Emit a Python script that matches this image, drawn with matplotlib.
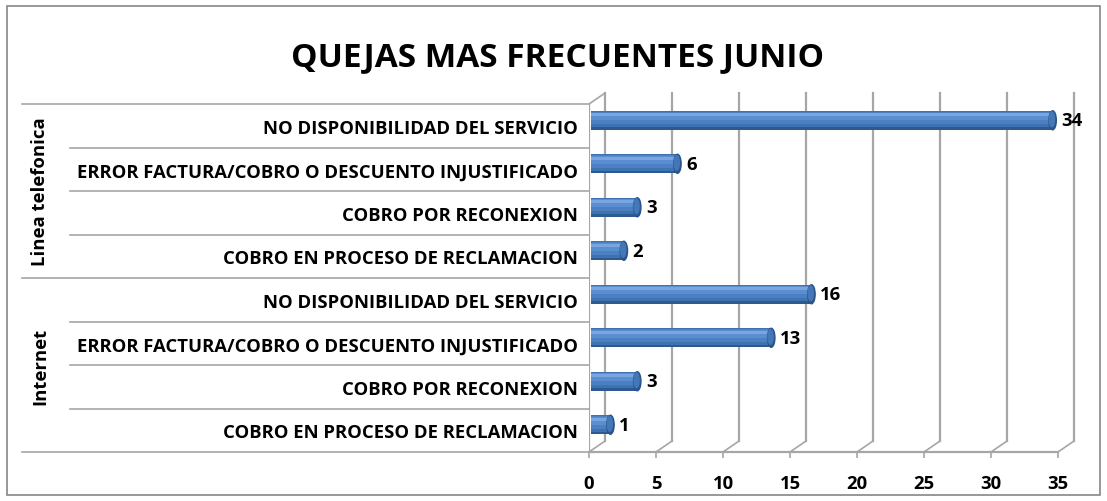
import matplotlib
matplotlib.use("Agg")
import matplotlib.pyplot as plt
from matplotlib.patches import Rectangle, Ellipse

# ── data ─────────────────────────────────────────
groups = ["Linea telefonica", "Internet"]
categories = [
    "NO DISPONIBILIDAD DEL SERVICIO",
    "ERROR FACTURA/COBRO O DESCUENTO INJUSTIFICADO",
    "COBRO POR RECONEXION",
    "COBRO EN PROCESO DE RECLAMACION",
]
linea_values = [34, 6, 3, 2]
internet_values = [16, 13, 3, 1]
x_ticks = [0, 5, 10, 15, 20, 25, 30, 35]
title = "QUEJAS MAS FRECUENTES JUNIO"

W, H = 1107, 502
FONT = "Open Sans"
FS = 13.3
GRID = "#A6A6A6"

labels = categories + categories
values = linea_values + internet_values
n = len(values)
rows = [r + 0.5 for r in range(n)]

fig = plt.figure(figsize=(W / 100, H / 100), dpi=100)

# axes placed so the front plane of the 3D-like chart lines up
ax_l, ax_r, ax_t, ax_b = 589, 1100, 92, 453
ax = fig.add_axes([ax_l / W, 1 - ax_b / H, (ax_r - ax_l) / W, (ax_b - ax_t) / H])
ux = 13.4                      # px per unit
ax.set_xlim(0, (ax_r - ax_l) / ux)
uy = (ax_b - ax_t) / (n + 0.3)
ax.set_ylim(n, -0.3)

dx = 16 / ux                   # depth offset (units)
dy = 11 / uy                   # depth offset (rows)

# back wall gridlines + floor diagonals
for t in x_ticks:
    ax.plot([t + dx, t + dx], [n - dy, -dy], color=GRID, lw=1.6, zorder=1)
    ax.plot([t, t + dx], [n, n - dy], color=GRID, lw=1.2, zorder=1)
ax.plot([x_ticks[0], x_ticks[-1]], [n, n], color=GRID, lw=1.6, zorder=1, clip_on=False)
# side wall
ax.plot([0, 0], [0, n], color=GRID, lw=1.6, zorder=1)
ax.plot([0, dx], [0, -dy], color=GRID, lw=1.2, zorder=1)

# category separators on the left
trans = ax.get_yaxis_transform()
def fx(p):
    return (p - ax_l) / (ax_r - ax_l)
for b in range(n + 1):
    start = 22 if b % 4 == 0 else 70
    ax.plot([fx(start), 0], [b, b], color=GRID, lw=1.2, transform=trans,
            clip_on=False, zorder=1)

# cylinder-ish bars: dark base, lighter layers toward the top
bh = 19 / uy
yc = [r - dy / 2 for r in rows]
x0 = 0.15
layers = [(1.0, "#2D5A8E", 0.0), (0.86, "#3F72B2", 0.06), (0.66, "#4B80C2", 0.12),
          (0.42, "#5A8ED0", 0.2), (0.16, "#79A6DE", 0.3)]
for f, c, up in layers:
    ax.barh([y - up * bh for y in yc], [v + 0.45 for v in values], left=x0,
            height=bh * f, color=c, edgecolor="none", zorder=3)
for v, y in zip(values, yc):
    ax.add_patch(Ellipse((x0 + v + 0.45, y), 0.55, bh, color="#2A5488", zorder=4))
    ax.add_patch(Ellipse((x0 + v + 0.4, y - 0.05 * bh), 0.38, bh * 0.78,
                         color="#4477B8", zorder=4))
    ax.text(x0 + v + 1.1, y, str(v), fontsize=FS, fontweight="bold",
            family=FONT, ha="left", va="center", zorder=5)

# axes text
ax.set_yticks(rows)
ax.set_yticklabels(labels, fontsize=FS, fontweight="bold", family=FONT)
ax.tick_params(axis="y", length=0, pad=8)
ax.set_xticks(x_ticks)
ax.set_xticklabels([str(t) for t in x_ticks], fontsize=FS, fontweight="bold", family=FONT)
ax.tick_params(axis="x", length=4.5, color=GRID, width=1.2, pad=11)
for s in ax.spines.values():
    s.set_visible(False)
ax.patch.set_visible(False)

for i, g in enumerate(groups):
    ax.text(fx(40), 4 * i + 2, g, rotation=90, transform=trans, fontsize=FS,
            fontweight="bold", family=FONT, ha="center", va="center")

fig.text(558 / W, 1 - 58 / H, title, fontsize=24, fontweight="bold", family=FONT,
         ha="center", va="center")
fig.patches.append(Rectangle((7 / W, 1 - 496 / H), (1100 - 7) / W, (496 - 7) / H,
                             transform=fig.transFigure, fill=False,
                             edgecolor="#868686", lw=1.2))

fig.savefig("out.png", dpi=100)
